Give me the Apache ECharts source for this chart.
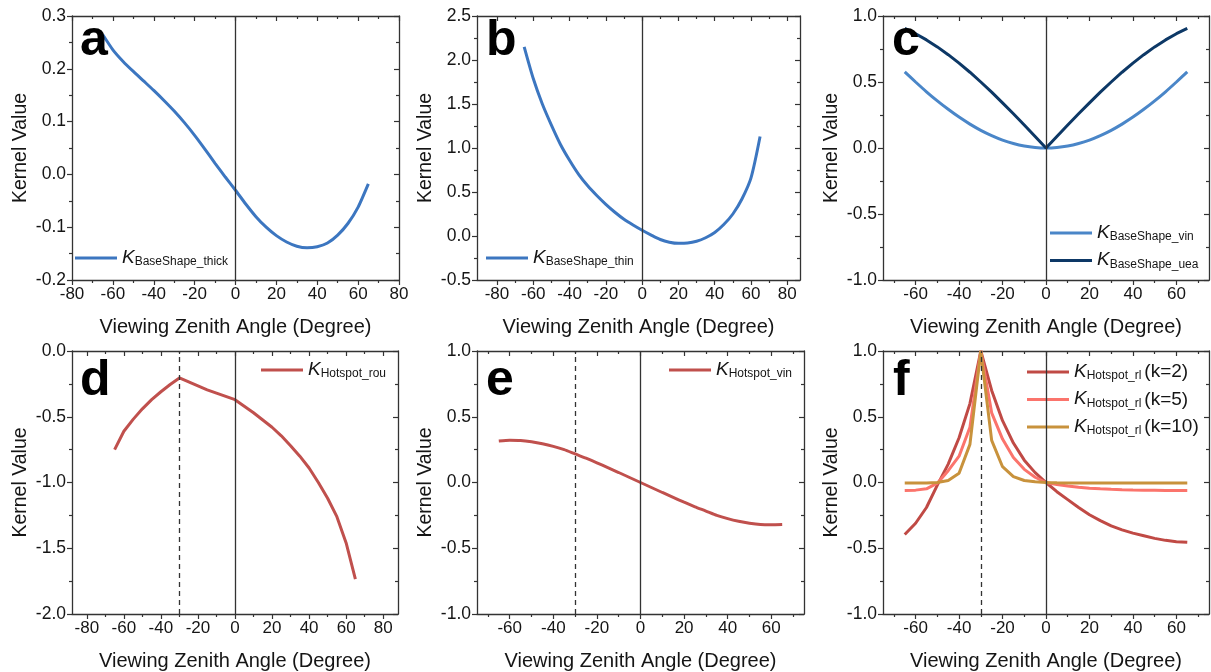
<!DOCTYPE html>
<html>
<head>
<meta charset="utf-8">
<script src="https://cdn.jsdelivr.net/npm/echarts@6.0.0/dist/echarts.min.js"></script>
<style>
html,body{margin:0;padding:0;background:#fff;}
#chart{width:1211px;height:672px;}
</style>
</head>
<body>
<div id="chart"></div>
<script>
// ---------------- DATA ----------------
const angles = [-65,-60,-55,-50,-45,-40,-35,-30,-25,-20,-15,-10,-5,0,5,10,15,20,25,30,35,40,45,50,55,60,65];

const baseShapeThick = [0.265,0.236,0.214,0.195,0.177,0.159,0.140,0.120,0.098,0.074,0.048,0.021,-0.005,-0.030,-0.056,-0.080,-0.100,-0.116,-0.128,-0.136,-0.139,-0.137,-0.130,-0.115,-0.093,-0.062,-0.018];
const baseShapeThin  = [2.15,1.79,1.50,1.26,1.04,0.86,0.70,0.57,0.46,0.36,0.27,0.19,0.125,0.065,0.01,-0.04,-0.07,-0.083,-0.08,-0.06,-0.02,0.04,0.13,0.25,0.42,0.66,1.13];
const baseShapeVin   = [0.577,0.50,0.426,0.357,0.293,0.234,0.181,0.134,0.094,0.060,0.034,0.015,0.004,0,0.004,0.015,0.034,0.060,0.094,0.134,0.181,0.234,0.293,0.357,0.426,0.50,0.577];
const baseShapeUea   = [0.906,0.866,0.819,0.766,0.707,0.643,0.574,0.50,0.423,0.342,0.259,0.174,0.087,0,0.087,0.174,0.259,0.342,0.423,0.50,0.574,0.643,0.707,0.766,0.819,0.866,0.906];
const hotspotRou     = [-0.75,-0.61,-0.52,-0.44,-0.37,-0.31,-0.255,-0.205,-0.235,-0.265,-0.295,-0.32,-0.345,-0.37,-0.42,-0.47,-0.525,-0.58,-0.645,-0.72,-0.80,-0.89,-1.0,-1.12,-1.26,-1.46,-1.735];
const hotspotVin     = [0.315,0.322,0.32,0.31,0.295,0.275,0.25,0.217,0.185,0.15,0.113,0.076,0.038,0,-0.038,-0.076,-0.113,-0.15,-0.185,-0.217,-0.25,-0.275,-0.295,-0.31,-0.32,-0.322,-0.32];
const hotspotRlK2    = [-0.395,-0.31,-0.19,-0.02,0.14,0.34,0.6,1.0,0.7,0.47,0.3,0.17,0.075,0,-0.07,-0.13,-0.19,-0.245,-0.29,-0.33,-0.36,-0.385,-0.405,-0.425,-0.44,-0.45,-0.455];
const hotspotRlK5    = [-0.06,-0.058,-0.048,-0.005,0.09,0.2,0.42,1.0,0.53,0.33,0.19,0.1,0.04,0,-0.015,-0.027,-0.036,-0.043,-0.048,-0.052,-0.055,-0.057,-0.058,-0.059,-0.06,-0.06,-0.06];
const hotspotRlK10   = [-0.003,-0.003,-0.003,0,0.015,0.07,0.29,1.0,0.32,0.12,0.045,0.015,0.005,0,-0.002,-0.003,-0.003,-0.003,-0.003,-0.003,-0.003,-0.003,-0.003,-0.003,-0.003,-0.003,-0.003];

const xTicks80      = [-80,-60,-40,-20,0,20,40,60,80];
const xMinor80      = [-70,-50,-30,-10,10,30,50,70];
const xTicks60      = [-60,-40,-20,0,20,40,60];
const xMinor60      = [-70,-50,-30,-10,10,30,50,70];

const letters = ['a','b','c','d','e','f'];
const xName = 'Viewing Zenith Angle (Degree)';
const yName = 'Kernel Value';

// ---------------- STYLE / LAYOUT ----------------
const FONT = '"Liberation Sans", Arial, sans-serif';
const AX = '#333333';
const TXT = '#151515';

const panels = [
  {grid:{left:72,top:16,width:327,height:264}, xMin:-80,xMax:80,xMajor:xTicks80,xMinor:xMinor80,
   yMin:-0.2,yMax:0.3,yInt:0.1, letterPos:[80,16], vlines:[0],
   series:[{name:'BaseShape_thick',data:baseShapeThick,color:'#3c76c0',smooth:0.2}],
   legend:{left:75,top:248}},
  {grid:{left:477,top:16,width:323,height:264}, xMin:-91,xMax:87,xMajor:xTicks80,xMinor:xMinor80,
   yMin:-0.5,yMax:2.5,yInt:0.5, letterPos:[486,16], vlines:[0],
   series:[{name:'BaseShape_thin',data:baseShapeThin,color:'#3c76c0',smooth:0.25}],
   legend:{left:486,top:248}},
  {grid:{left:883,top:16,width:326,height:264}, xMin:-75,xMax:75,xMajor:xTicks60,xMinor:xMinor60,
   yMin:-1,yMax:1,yInt:0.5, letterPos:[892,16], vlines:[0],
   series:[{name:'BaseShape_vin',data:baseShapeVin,color:'#4a86c8',smooth:0.2},
           {name:'BaseShape_uea',data:baseShapeUea,color:'#0d3866',smooth:false}],
   legend:{left:1050,top:223}},
  {grid:{left:72,top:351,width:326,height:264}, xMin:-88,xMax:88,xMajor:xTicks80,xMinor:xMinor80,
   yMin:-2,yMax:0,yInt:0.5, letterPos:[80,356], vlines:[0,-30],
   series:[{name:'Hotspot_rou',data:hotspotRou,color:'#c0504d',smooth:false}],
   legend:{left:261,top:360}},
  {grid:{left:477,top:351,width:327,height:264}, xMin:-75,xMax:75,xMajor:xTicks60,xMinor:xMinor60,
   yMin:-1,yMax:1,yInt:0.5, letterPos:[486,356], vlines:[0,-30],
   series:[{name:'Hotspot_vin',data:hotspotVin,color:'#c0504d',smooth:0.2}],
   legend:{left:669,top:360}},
  {grid:{left:883,top:351,width:326,height:264}, xMin:-75,xMax:75,xMajor:xTicks60,xMinor:xMinor60,
   yMin:-1,yMax:1,yInt:0.5, letterPos:[893,356], vlines:[0,-30],
   series:[{name:'Hotspot_rl (k=2)',data:hotspotRlK2,color:'#c04a45',smooth:false},
           {name:'Hotspot_rl (k=5)',data:hotspotRlK5,color:'#fb746c',smooth:false},
           {name:'Hotspot_rl (k=10)',data:hotspotRlK10,color:'#c8923c',smooth:false}],
   legend:{left:1027,top:362}}
];

function yFmt(v){ return Math.abs(v) < 1e-9 ? '0.0' : v.toFixed(1); }

function legendFmt(name){
  const i = name.indexOf(' ');
  const sub = i < 0 ? name : name.slice(0,i);
  const tail = i < 0 ? '' : name.slice(i+1);
  return '{k|K}{s|' + sub + '}' + (tail ? '{n|' + tail + '}' : '');
}

const option = {
  animation:false,
  backgroundColor:'#ffffff',
  textStyle:{fontFamily:FONT},
  title:[], grid:[], xAxis:[], yAxis:[], series:[], legend:[]
};

panels.forEach((p,g)=>{
  option.grid.push(Object.assign({containLabel:false}, p.grid));
  option.title.push({text:letters[g], left:p.letterPos[0], top:p.letterPos[1], padding:0,
    textStyle:{fontSize:50,fontWeight:'bold',fontFamily:FONT,color:'#000'}});
  const base = {type:'value', gridIndex:g, min:p.xMin, max:p.xMax, splitLine:{show:false}};
  option.xAxis.push(Object.assign({}, base, {position:'bottom',
    axisLine:{show:true,onZero:false,lineStyle:{color:AX,width:1.3}},
    axisTick:{show:true,inside:false,length:5,customValues:p.xMajor,lineStyle:{color:AX,width:1.2}},
    axisLabel:{show:true,customValues:p.xMajor,margin:6,fontSize:17,color:TXT,fontFamily:FONT},
    name:xName,nameLocation:'middle',nameGap:37,nameTextStyle:{fontSize:20,color:TXT,fontFamily:FONT}}));
  option.xAxis.push(Object.assign({}, base, {position:'bottom',
    axisLine:{show:false,onZero:false},
    axisTick:{show:true,inside:false,length:3,customValues:p.xMinor,lineStyle:{color:AX,width:1.2}},
    axisLabel:{show:false}}));
  option.xAxis.push(Object.assign({}, base, {position:'top',
    axisLine:{show:true,onZero:false,lineStyle:{color:AX,width:1.3}},
    axisTick:{show:true,inside:true,length:5,customValues:p.xMajor,lineStyle:{color:AX,width:1.2}},
    axisLabel:{show:false}}));
  option.xAxis.push(Object.assign({}, base, {position:'top',
    axisLine:{show:false,onZero:false},
    axisTick:{show:true,inside:true,length:3,customValues:p.xMinor,lineStyle:{color:AX,width:1.2}},
    axisLabel:{show:false}}));
  const ybase = {type:'value', gridIndex:g, min:p.yMin, max:p.yMax, interval:p.yInt, splitLine:{show:false}};
  option.yAxis.push(Object.assign({}, ybase, {position:'left',
    axisLine:{show:true,onZero:false,lineStyle:{color:AX,width:1.3}},
    axisTick:{show:true,inside:false,length:5,lineStyle:{color:AX,width:1.2}},
    minorTick:{show:true,splitNumber:2,length:3,lineStyle:{color:AX,width:1.2}},
    axisLabel:{show:true,margin:6,fontSize:17.5,color:TXT,fontFamily:FONT,formatter:yFmt},
    name:yName,nameLocation:'middle',nameGap:41,nameTextStyle:{fontSize:19.5,color:TXT,fontFamily:FONT}}));
  option.yAxis.push(Object.assign({}, ybase, {position:'right',
    axisLine:{show:true,onZero:false,lineStyle:{color:AX,width:1.3}},
    axisTick:{show:true,inside:true,length:5,lineStyle:{color:AX,width:1.2}},
    minorTick:{show:true,splitNumber:2,length:3,lineStyle:{color:AX,width:1.2}},
    axisLabel:{show:false}}));

  const xi = g*4, yi = g*2;
  [[xi+1,yi],[xi+2,yi+1],[xi+3,yi]].forEach((ax,k)=>{
    option.series.push({type:'line',name:'_aux'+g+'_'+k,xAxisIndex:ax[0],yAxisIndex:ax[1],data:[],silent:true});
  });

  p.series.forEach((s,si)=>{
    const ser = {type:'line', name:s.name, xAxisIndex:xi, yAxisIndex:yi,
      data:angles.map((a,i)=>[a,s.data[i]]),
      smooth:s.smooth, symbol:'none', showSymbol:false,
      lineStyle:{color:s.color,width:3}, itemStyle:{color:s.color}, z:3};
    if (si === 0) {
      ser.markLine = {silent:true, symbol:['none','none'], label:{show:false}, animation:false,
        data:p.vlines.map(v=>({xAxis:v, lineStyle:{color:'#333', width:1.3, type: v===0 ? 'solid' : [5,4]}}))};
    }
    option.series.push(ser);
  });

  option.legend.push({
    left:p.legend.left, top:p.legend.top, orient:'vertical', padding:0, itemGap:7.5,
    icon:'rect', itemWidth:42, itemHeight:3, selectedMode:false,
    data:p.series.map(s=>s.name),
    formatter:legendFmt,
    textStyle:{color:TXT, fontFamily:FONT,
      rich:{
        k:{fontSize:19,fontStyle:'italic',color:TXT,fontFamily:FONT,padding:[0,0,1,0]},
        s:{fontSize:12,color:TXT,fontFamily:FONT,verticalAlign:'bottom'},
        n:{fontSize:19,color:TXT,fontFamily:FONT,padding:[0,0,0,3]}
      }}
  });
});

const chart = echarts.init(document.getElementById('chart'), null, {renderer:'canvas'});
chart.setOption(option);
</script>
</body>
</html>
